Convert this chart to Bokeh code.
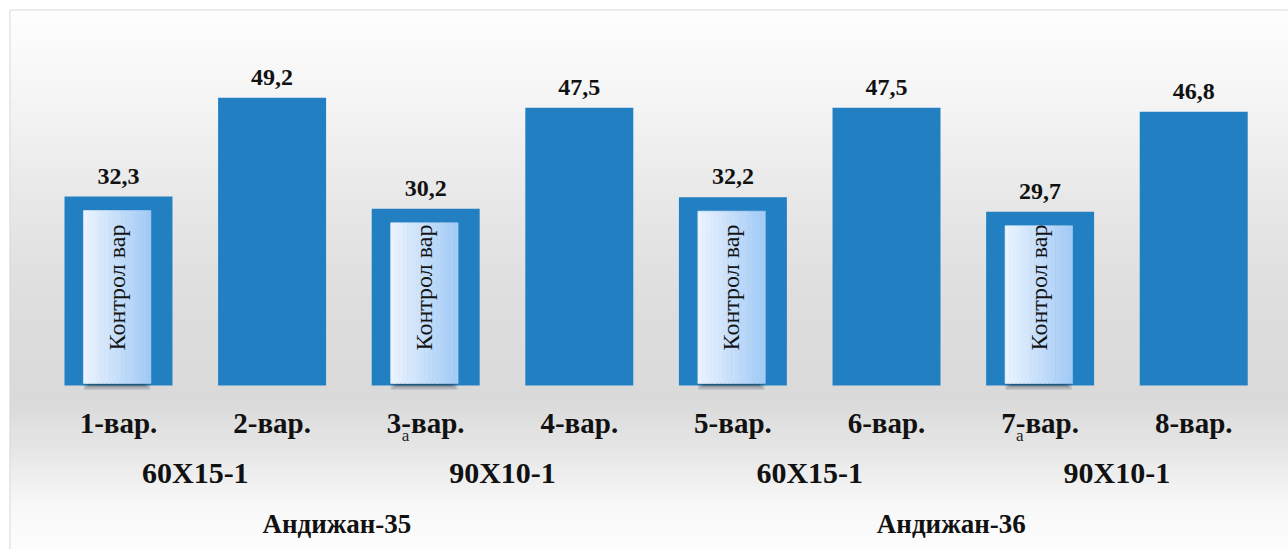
import numpy as np
from bokeh.plotting import figure
from bokeh.models import Range1d, ColumnDataSource
from bokeh.core.properties import value
from bokeh.embed import file_html
from bokeh.resources import INLINE

# ---------------- data ----------------
categories = ["1-вар.", "2-вар.", "3-вар.", "4-вар.", "5-вар.", "6-вар.", "7-вар.", "8-вар."]
values = [32.3, 49.2, 30.2, 47.5, 32.2, 47.5, 29.7, 46.8]
value_labels = ["32,3", "49,2", "30,2", "47,5", "32,2", "47,5", "29,7", "46,8"]
spacings = ["60X15-1", "90X10-1", "60X15-1", "90X10-1"]
varieties = ["Андижан-35", "Андижан-36"]
control_idx = [0, 2, 4, 6]
control_text = "Контрол вар"
subscript_idx = [2, 6]
subscript_text = "а"

# ---------------- layout helpers (styling) ----------------
W, H = 1288, 549
BASE_PX = 385.0
PX_PER_UNIT = 5.85


def px2y(px):
    return (BASE_PX - np.asarray(px, dtype=float)) / PX_PER_UNIT


x_idx = np.arange(len(categories))
x_start, x_end = -0.703, 7.617

p = figure(width=W, height=H,
           x_range=Range1d(x_start, x_end),
           y_range=Range1d(float(px2y(549)), float(px2y(10))),
           output_backend="svg", toolbar_location=None,
           x_axis_location=None, y_axis_location=None,
           min_border_left=10, min_border_top=10,
           min_border_right=0, min_border_bottom=0)
p.grid.visible = False
p.outline_line_color = "#d4d4d4"
p.outline_line_width = 2
p.background_fill_color = "#ffffff"
p.border_fill_color = "#ffffff"

# ---------------- background gradient ----------------
px_stops = [10, 90, 200, 300, 400, 450, 505, 549]
g_stops = [254, 246, 232, 222, 218, 230, 248, 253]
edges = np.linspace(10, 549, 150)
mids = (edges[:-1] + edges[1:]) / 2
greys = np.interp(mids, px_stops, g_stops).round().astype(int)
bg_cols = ["#%02x%02x%02x" % (g, g, g) for g in greys]
p.quad(left=x_start - 1, right=x_end + 1,
       top=px2y(edges[:-1]) + 0.02, bottom=px2y(edges[1:]) - 0.02,
       fill_color=bg_cols, line_color=bg_cols, line_width=1)

# ---------------- bars ----------------
src = ColumnDataSource(dict(x=x_idx, top=values, lab=value_labels, cat=categories))
p.vbar(x="x", top="top", bottom=0, width=0.703, source=src,
       fill_color="#2280c2", line_color=None)

# ---------------- control boxes ----------------
ctrl_x = np.array(control_idx, dtype=float)
ctrl_top = np.array([values[i] for i in control_idx]) - 2.4
box_l, box_r = -0.228, 0.208
box_bottom = 0.35

# shadow
for k, a in enumerate([0.12, 0.14, 0.16, 0.18]):
    p.quad(left=ctrl_x + box_l + 0.012 * k, right=ctrl_x + box_r - 0.012 * k,
           top=ctrl_top - 3, bottom=box_bottom - 1.1 + 0.25 * k,
           fill_color="#1a2a3a", fill_alpha=a, line_color=None)

n_str = 16
c0 = np.array([234, 243, 254])
c1 = np.array([164, 203, 246])
for s in range(n_str):
    t = s / (n_str - 1)
    c = (c0 * (1 - t) + c1 * t).round().astype(int)
    col = "#%02x%02x%02x" % tuple(c)
    l = box_l + (box_r - box_l) * s / n_str
    r = box_l + (box_r - box_l) * (s + 1) / n_str
    p.quad(left=ctrl_x + l, right=ctrl_x + r + 0.003, top=ctrl_top, bottom=box_bottom,
           fill_color=col, line_color=col, line_width=0.6)

p.text(x=ctrl_x + (box_l + box_r) / 2, y=[float(px2y(287))] * len(control_idx),
       text=[control_text] * len(control_idx), angle=np.pi / 2,
       text_align="center", text_baseline="middle",
       text_font=value("Liberation Serif"), text_font_size="24px",
       text_color="#141414")

# ---------------- value labels ----------------
p.text(x="x", y="top", text="lab", source=src, y_offset=-13,
       text_align="center", text_baseline="bottom",
       text_font=value("Liberation Serif"), text_font_style="bold",
       text_font_size="24px", text_color="#111111")

# ---------------- category labels ----------------
p.text(x="x", y=float(px2y(422)), text="cat", source=src,
       text_align="center", text_baseline="middle",
       text_font=value("Liberation Serif"), text_font_style="bold",
       text_font_size="29px", text_color="#111111")

p.text(x=np.array(subscript_idx, dtype=float), y=float(px2y(422)),
       text=[subscript_text] * len(subscript_idx),
       x_offset=-24, y_offset=13, text_align="left", text_baseline="middle",
       text_font=value("Liberation Serif"), text_font_size="17px",
       text_color="#222222")

# ---------------- group labels ----------------
grp_x = x_idx.reshape(len(spacings), -1).mean(axis=1)
p.text(x=grp_x, y=float(px2y(472)), text=spacings,
       text_align="center", text_baseline="middle",
       text_font=value("Liberation Serif"), text_font_style="bold",
       text_font_size="30px", text_color="#111111")

var_x = x_idx.reshape(len(varieties), -1).mean(axis=1)
p.text(x=var_x, y=float(px2y(523)), text=varieties, x_offset=-12,
       text_align="center", text_baseline="middle",
       text_font=value("Liberation Serif"), text_font_style="bold",
       text_font_size="27px", text_color="#111111")

open("out.html", "w").write(file_html(p, INLINE))
